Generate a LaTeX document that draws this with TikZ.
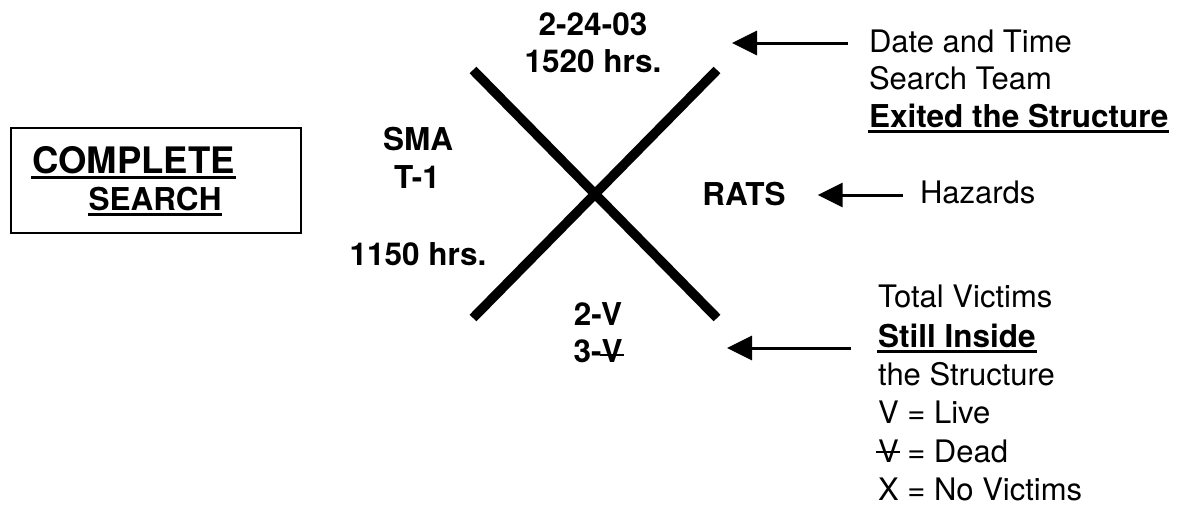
\documentclass[tikz,border=0pt]{standalone}
\usepackage{fontspec}
\setmainfont{TeX Gyre Heros}
\usetikzlibrary{arrows.meta}
\newsavebox\ulbox
\newcommand\myul[1]{\sbox\ulbox{#1}\rlap{\kern-1pt\rule[-6pt]{\dimexpr\wd\ulbox+2pt\relax}{3.5pt}}\usebox\ulbox}
\newcommand\mystrike[2]{\sbox\ulbox{#2}\rlap{\kern-2pt\rule[#1]{\dimexpr\wd\ulbox+3pt\relax}{2pt}}\usebox\ulbox}
\begin{document}
\begin{tikzpicture}[x=1pt,y=-1pt,
  txt/.style={inner sep=0pt, outer sep=0pt, font=\fontsize{31}{37}\selectfont},
  btxt/.style={txt, font=\fontsize{31.5}{37}\selectfont\bfseries},
  xline/.style={line width=9.5pt, line cap=butt},
  arr/.style={line width=3pt, -{Triangle[length=25pt,width=24pt]}}]
\useasboundingbox (0,0) rectangle (1178,506);
% box
\node[draw, line width=2pt, minimum width=290pt, minimum height=105pt, inner sep=0pt] (box) at (155.5,180) {};
\node[btxt, anchor=base, font=\fontsize{36.5}{40}\selectfont\bfseries] (complete) at (133.5,173) {\myul{COMPLETE}};
\node[btxt, anchor=base] (search) at (155,210) {\myul{SEARCH}};
% X
\coordinate (xa1) at (473,70);
\coordinate (xa2) at (717,318);
\coordinate (xb1) at (717,70);
\coordinate (xb2) at (473,318);
\draw[xline] (xa1) -- (xa2);
\draw[xline] (xb1) -- (xb2);
% bold labels around X
\node[btxt, anchor=base] (date) at (593,35) {2-24-03};
\node[btxt, anchor=base] (exit) at (593,72) {1520 hrs.};
\node[btxt, anchor=base] (sma) at (418,150) {SMA};
\node[btxt, anchor=base] (team) at (417,188) {T-1};
\node[btxt, anchor=base] (entry) at (418,265) {1150 hrs.};
\node[btxt, anchor=base] (live) at (598,325) {2-V};
\node[btxt, anchor=base] (dead) at (598,362) {3-\mystrike{6pt}{V}};
\node[btxt, anchor=base] (rats) at (744,205) {RATS};
% right explanations
\node[txt, anchor=base west] (r1) at (869,52) {Date and Time};
\node[txt, anchor=base west] (r2) at (869,89) {Search Team};
\node[btxt, anchor=base west] (r3) at (869,127) {\myul{Exited the Structure}};
\node[txt, anchor=base west] (haz) at (920,203) {Hazards};
\node[txt, anchor=base west] (v1) at (878,307) {Total Victims};
\node[btxt, anchor=base west] (v2) at (878,347) {\myul{Still Inside}};
\node[txt, anchor=base west] (v3) at (878,385) {the Structure};
\node[txt, anchor=base west] (v4) at (878,423) {V = Live};
\node[txt, anchor=base west] (v5) at (878,462) {\mystrike{9pt}{V} = Dead};
\node[txt, anchor=base west] (v6) at (878,500) {X = No Victims};
% arrows
\coordinate (t1tail) at (848,43);
\coordinate (t1tip) at (732,43);
\draw[arr] (t1tail) -- (t1tip);
\draw[arr] ([shift={(-17pt,8pt)}]haz.base west) -- ([shift={(32pt,10pt)}]rats.base east);
\coordinate (t3tail) at (851,348);
\coordinate (t3tip) at (727,348);
\draw[arr] (t3tail) -- (t3tip);
\end{tikzpicture}
\end{document}
